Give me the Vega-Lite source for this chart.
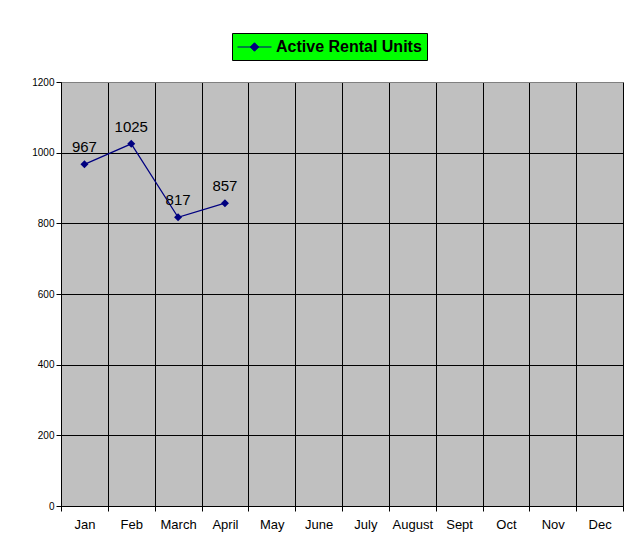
{
  "$schema": "https://vega.github.io/schema/vega-lite/v6.json",
  "width": 562,
  "height": 424,
  "autosize": {"type": "none"},
  "padding": {"left": 61, "top": 82, "right": 21, "bottom": 35},
  "background": "white",
  "config": {
    "font": "Liberation Sans",
    "view": {"fill": "#C0C0C0", "stroke": "#808080", "strokeWidth": 1}
  },
  "data": {
    "values": [
      {"month": "Jan", "units": 967, "series": "Active Rental Units"},
      {"month": "Feb", "units": 1025, "series": "Active Rental Units"},
      {"month": "March", "units": 817, "series": "Active Rental Units"},
      {"month": "April", "units": 857, "series": "Active Rental Units"}
    ]
  },
  "encoding": {
    "x": {
      "field": "month",
      "type": "nominal",
      "sort": null,
      "scale": {"domain": ["Jan", "Feb", "March", "April", "May", "June", "July", "August", "Sept", "Oct", "Nov", "Dec"], "paddingInner": 0, "paddingOuter": 0},
      "axis": {
        "title": null,
        "labelAngle": 0,
        "tickBand": "extent",
        "grid": true,
        "gridColor": "#000000",
        "gridOpacity": 1,
        "gridWidth": 1,
        "domainColor": "#000000",
        "tickColor": "#000000",
        "tickSize": 5,
        "labelFontSize": 13,
        "labelColor": "#000000",
        "labelPadding": 7,
        "labelFont": "Liberation Sans"
      }
    },
    "y": {
      "field": "units",
      "type": "quantitative",
      "scale": {"domain": [0, 1200], "nice": false},
      "axis": {
        "title": null,
        "format": "d",
        "values": [0, 200, 400, 600, 800, 1000, 1200],
        "grid": true,
        "gridColor": {"condition": {"test": "datum.value == 1200", "value": "#808080"}, "value": "#000000"},
        "gridOpacity": 1,
        "gridWidth": 1,
        "domainColor": "#000000",
        "tickColor": "#000000",
        "tickSize": 5,
        "labelFontSize": 10,
        "labelColor": "#000000",
        "labelPadding": 2,
        "labelFont": "Liberation Sans"
      }
    }
  },
  "layer": [
    {
      "mark": {"type": "line", "strokeWidth": 1.2},
      "encoding": {
        "color": {
          "field": "series",
          "type": "nominal",
          "scale": {"range": ["#000080"]},
          "legend": {
            "title": null,
            "orient": "none",
            "legendX": 171,
            "legendY": -49,
            "fillColor": "#00FF00",
            "strokeColor": "#000000",
            "padding": 5,
            "labelFontSize": 16,
            "labelFontWeight": "bold",
            "labelColor": "#000000",
            "labelFont": "Liberation Sans",
            "labelOffset": 21,
            "symbolType": "M-1,0H3M1,-0.5L1.5,0L1,0.5L0.5,0Z",
            "symbolSize": 289,
            "symbolFillColor": "#000080",
            "symbolStrokeColor": "#000080",
            "symbolStrokeWidth": 1
          }
        }
      }
    },
    {
      "mark": {"type": "point", "shape": "diamond", "filled": true, "size": 64, "color": "#000080", "opacity": 1}
    },
    {
      "mark": {"type": "text", "dy": -12, "fontSize": 15, "color": "#000000", "font": "Liberation Sans", "baseline": "alphabetic"},
      "encoding": {"text": {"field": "units", "type": "quantitative"}}
    }
  ]
}
